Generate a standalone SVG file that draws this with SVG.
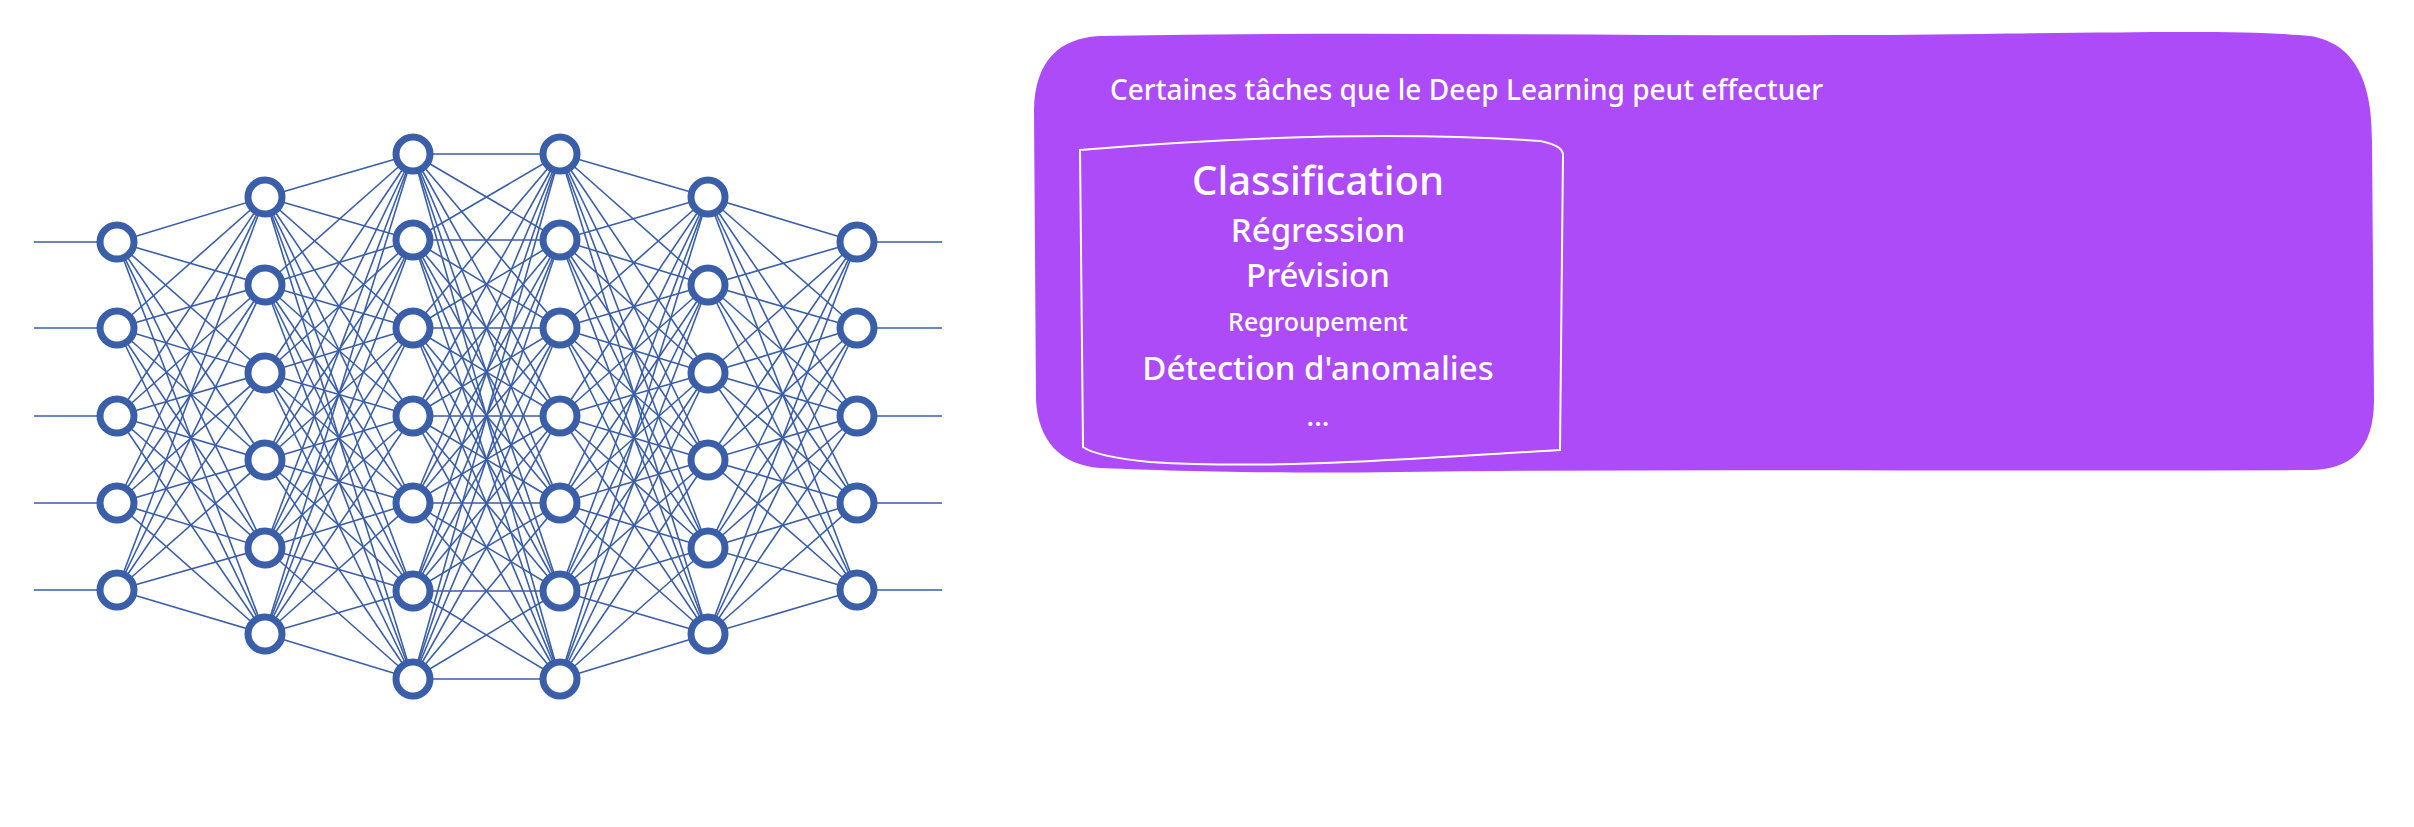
<svg xmlns="http://www.w3.org/2000/svg" width="2414" height="827" viewBox="0 0 2414 827">
<style>
.n{fill:#fff;stroke:#3a5ea8;stroke-width:7}
.c line{stroke:#3a5ea8;stroke-width:1.6}
.t{fill:#fff;font-family:"Noto Sans",sans-serif;text-anchor:middle;font-weight:500}
</style>
<rect width="2414" height="827" fill="#fff"/>
<g class="c" id="connectors">
<line x1="34" y1="242" x2="117" y2="242"/><line x1="34" y1="328" x2="117" y2="328"/><line x1="34" y1="416" x2="117" y2="416"/><line x1="34" y1="503" x2="117" y2="503"/><line x1="34" y1="590" x2="117" y2="590"/>
<line x1="857" y1="242" x2="942" y2="242"/><line x1="857" y1="328" x2="942" y2="328"/><line x1="857" y1="416" x2="942" y2="416"/><line x1="857" y1="503" x2="942" y2="503"/><line x1="857" y1="590" x2="942" y2="590"/>
<line x1="117" y1="242" x2="265" y2="197"/><line x1="117" y1="242" x2="265" y2="285"/><line x1="117" y1="242" x2="265" y2="373"/><line x1="117" y1="242" x2="265" y2="460"/><line x1="117" y1="242" x2="265" y2="548"/><line x1="117" y1="242" x2="265" y2="634"/>
<line x1="117" y1="328" x2="265" y2="197"/><line x1="117" y1="328" x2="265" y2="285"/><line x1="117" y1="328" x2="265" y2="373"/><line x1="117" y1="328" x2="265" y2="460"/><line x1="117" y1="328" x2="265" y2="548"/><line x1="117" y1="328" x2="265" y2="634"/>
<line x1="117" y1="416" x2="265" y2="197"/><line x1="117" y1="416" x2="265" y2="285"/><line x1="117" y1="416" x2="265" y2="373"/><line x1="117" y1="416" x2="265" y2="460"/><line x1="117" y1="416" x2="265" y2="548"/><line x1="117" y1="416" x2="265" y2="634"/>
<line x1="117" y1="503" x2="265" y2="197"/><line x1="117" y1="503" x2="265" y2="285"/><line x1="117" y1="503" x2="265" y2="373"/><line x1="117" y1="503" x2="265" y2="460"/><line x1="117" y1="503" x2="265" y2="548"/><line x1="117" y1="503" x2="265" y2="634"/>
<line x1="117" y1="590" x2="265" y2="197"/><line x1="117" y1="590" x2="265" y2="285"/><line x1="117" y1="590" x2="265" y2="373"/><line x1="117" y1="590" x2="265" y2="460"/><line x1="117" y1="590" x2="265" y2="548"/><line x1="117" y1="590" x2="265" y2="634"/>
<line x1="857" y1="242" x2="708" y2="197"/><line x1="857" y1="242" x2="708" y2="285"/><line x1="857" y1="242" x2="708" y2="373"/><line x1="857" y1="242" x2="708" y2="460"/><line x1="857" y1="242" x2="708" y2="548"/><line x1="857" y1="242" x2="708" y2="634"/>
<line x1="857" y1="328" x2="708" y2="197"/><line x1="857" y1="328" x2="708" y2="285"/><line x1="857" y1="328" x2="708" y2="373"/><line x1="857" y1="328" x2="708" y2="460"/><line x1="857" y1="328" x2="708" y2="548"/><line x1="857" y1="328" x2="708" y2="634"/>
<line x1="857" y1="416" x2="708" y2="197"/><line x1="857" y1="416" x2="708" y2="285"/><line x1="857" y1="416" x2="708" y2="373"/><line x1="857" y1="416" x2="708" y2="460"/><line x1="857" y1="416" x2="708" y2="548"/><line x1="857" y1="416" x2="708" y2="634"/>
<line x1="857" y1="503" x2="708" y2="197"/><line x1="857" y1="503" x2="708" y2="285"/><line x1="857" y1="503" x2="708" y2="373"/><line x1="857" y1="503" x2="708" y2="460"/><line x1="857" y1="503" x2="708" y2="548"/><line x1="857" y1="503" x2="708" y2="634"/>
<line x1="857" y1="590" x2="708" y2="197"/><line x1="857" y1="590" x2="708" y2="285"/><line x1="857" y1="590" x2="708" y2="373"/><line x1="857" y1="590" x2="708" y2="460"/><line x1="857" y1="590" x2="708" y2="548"/><line x1="857" y1="590" x2="708" y2="634"/>
<line x1="265" y1="197" x2="413" y2="154"/><line x1="265" y1="197" x2="413" y2="240"/><line x1="265" y1="197" x2="413" y2="328"/><line x1="265" y1="197" x2="413" y2="416"/><line x1="265" y1="197" x2="413" y2="503"/><line x1="265" y1="197" x2="413" y2="591"/><line x1="265" y1="197" x2="413" y2="679"/>
<line x1="265" y1="285" x2="413" y2="154"/><line x1="265" y1="285" x2="413" y2="240"/><line x1="265" y1="285" x2="413" y2="328"/><line x1="265" y1="285" x2="413" y2="416"/><line x1="265" y1="285" x2="413" y2="503"/><line x1="265" y1="285" x2="413" y2="591"/><line x1="265" y1="285" x2="413" y2="679"/>
<line x1="265" y1="373" x2="413" y2="154"/><line x1="265" y1="373" x2="413" y2="240"/><line x1="265" y1="373" x2="413" y2="328"/><line x1="265" y1="373" x2="413" y2="416"/><line x1="265" y1="373" x2="413" y2="503"/><line x1="265" y1="373" x2="413" y2="591"/><line x1="265" y1="373" x2="413" y2="679"/>
<line x1="265" y1="460" x2="413" y2="154"/><line x1="265" y1="460" x2="413" y2="240"/><line x1="265" y1="460" x2="413" y2="328"/><line x1="265" y1="460" x2="413" y2="416"/><line x1="265" y1="460" x2="413" y2="503"/><line x1="265" y1="460" x2="413" y2="591"/><line x1="265" y1="460" x2="413" y2="679"/>
<line x1="265" y1="548" x2="413" y2="154"/><line x1="265" y1="548" x2="413" y2="240"/><line x1="265" y1="548" x2="413" y2="328"/><line x1="265" y1="548" x2="413" y2="416"/><line x1="265" y1="548" x2="413" y2="503"/><line x1="265" y1="548" x2="413" y2="591"/><line x1="265" y1="548" x2="413" y2="679"/>
<line x1="265" y1="634" x2="413" y2="154"/><line x1="265" y1="634" x2="413" y2="240"/><line x1="265" y1="634" x2="413" y2="328"/><line x1="265" y1="634" x2="413" y2="416"/><line x1="265" y1="634" x2="413" y2="503"/><line x1="265" y1="634" x2="413" y2="591"/><line x1="265" y1="634" x2="413" y2="679"/>
<line x1="708" y1="197" x2="560" y2="154"/><line x1="708" y1="197" x2="560" y2="240"/><line x1="708" y1="197" x2="560" y2="328"/><line x1="708" y1="197" x2="560" y2="416"/><line x1="708" y1="197" x2="560" y2="503"/><line x1="708" y1="197" x2="560" y2="591"/><line x1="708" y1="197" x2="560" y2="679"/>
<line x1="708" y1="285" x2="560" y2="154"/><line x1="708" y1="285" x2="560" y2="240"/><line x1="708" y1="285" x2="560" y2="328"/><line x1="708" y1="285" x2="560" y2="416"/><line x1="708" y1="285" x2="560" y2="503"/><line x1="708" y1="285" x2="560" y2="591"/><line x1="708" y1="285" x2="560" y2="679"/>
<line x1="708" y1="373" x2="560" y2="154"/><line x1="708" y1="373" x2="560" y2="240"/><line x1="708" y1="373" x2="560" y2="328"/><line x1="708" y1="373" x2="560" y2="416"/><line x1="708" y1="373" x2="560" y2="503"/><line x1="708" y1="373" x2="560" y2="591"/><line x1="708" y1="373" x2="560" y2="679"/>
<line x1="708" y1="460" x2="560" y2="154"/><line x1="708" y1="460" x2="560" y2="240"/><line x1="708" y1="460" x2="560" y2="328"/><line x1="708" y1="460" x2="560" y2="416"/><line x1="708" y1="460" x2="560" y2="503"/><line x1="708" y1="460" x2="560" y2="591"/><line x1="708" y1="460" x2="560" y2="679"/>
<line x1="708" y1="548" x2="560" y2="154"/><line x1="708" y1="548" x2="560" y2="240"/><line x1="708" y1="548" x2="560" y2="328"/><line x1="708" y1="548" x2="560" y2="416"/><line x1="708" y1="548" x2="560" y2="503"/><line x1="708" y1="548" x2="560" y2="591"/><line x1="708" y1="548" x2="560" y2="679"/>
<line x1="708" y1="634" x2="560" y2="154"/><line x1="708" y1="634" x2="560" y2="240"/><line x1="708" y1="634" x2="560" y2="328"/><line x1="708" y1="634" x2="560" y2="416"/><line x1="708" y1="634" x2="560" y2="503"/><line x1="708" y1="634" x2="560" y2="591"/><line x1="708" y1="634" x2="560" y2="679"/>
<line x1="413" y1="154" x2="560" y2="154"/><line x1="413" y1="154" x2="560" y2="240"/><line x1="413" y1="154" x2="560" y2="328"/><line x1="413" y1="154" x2="560" y2="416"/><line x1="413" y1="154" x2="560" y2="503"/><line x1="413" y1="154" x2="560" y2="591"/><line x1="413" y1="154" x2="560" y2="679"/>
<line x1="413" y1="240" x2="560" y2="154"/><line x1="413" y1="240" x2="560" y2="240"/><line x1="413" y1="240" x2="560" y2="328"/><line x1="413" y1="240" x2="560" y2="416"/><line x1="413" y1="240" x2="560" y2="503"/><line x1="413" y1="240" x2="560" y2="591"/><line x1="413" y1="240" x2="560" y2="679"/>
<line x1="413" y1="328" x2="560" y2="154"/><line x1="413" y1="328" x2="560" y2="240"/><line x1="413" y1="328" x2="560" y2="328"/><line x1="413" y1="328" x2="560" y2="416"/><line x1="413" y1="328" x2="560" y2="503"/><line x1="413" y1="328" x2="560" y2="591"/><line x1="413" y1="328" x2="560" y2="679"/>
<line x1="413" y1="416" x2="560" y2="154"/><line x1="413" y1="416" x2="560" y2="240"/><line x1="413" y1="416" x2="560" y2="328"/><line x1="413" y1="416" x2="560" y2="416"/><line x1="413" y1="416" x2="560" y2="503"/><line x1="413" y1="416" x2="560" y2="591"/><line x1="413" y1="416" x2="560" y2="679"/>
<line x1="413" y1="503" x2="560" y2="154"/><line x1="413" y1="503" x2="560" y2="240"/><line x1="413" y1="503" x2="560" y2="328"/><line x1="413" y1="503" x2="560" y2="416"/><line x1="413" y1="503" x2="560" y2="503"/><line x1="413" y1="503" x2="560" y2="591"/><line x1="413" y1="503" x2="560" y2="679"/>
<line x1="413" y1="591" x2="560" y2="154"/><line x1="413" y1="591" x2="560" y2="240"/><line x1="413" y1="591" x2="560" y2="328"/><line x1="413" y1="591" x2="560" y2="416"/><line x1="413" y1="591" x2="560" y2="503"/><line x1="413" y1="591" x2="560" y2="591"/><line x1="413" y1="591" x2="560" y2="679"/>
<line x1="413" y1="679" x2="560" y2="154"/><line x1="413" y1="679" x2="560" y2="240"/><line x1="413" y1="679" x2="560" y2="328"/><line x1="413" y1="679" x2="560" y2="416"/><line x1="413" y1="679" x2="560" y2="503"/><line x1="413" y1="679" x2="560" y2="591"/><line x1="413" y1="679" x2="560" y2="679"/>
</g>
<g id="nodes">
<g id="l1"><circle class="n" cx="117" cy="242" r="17"/><circle class="n" cx="117" cy="328" r="17"/><circle class="n" cx="117" cy="416" r="17"/><circle class="n" cx="117" cy="503" r="17"/><circle class="n" cx="117" cy="590" r="17"/></g>
<g id="l2"><circle class="n" cx="265" cy="197" r="17"/><circle class="n" cx="265" cy="285" r="17"/><circle class="n" cx="265" cy="373" r="17"/><circle class="n" cx="265" cy="460" r="17"/><circle class="n" cx="265" cy="548" r="17"/><circle class="n" cx="265" cy="634" r="17"/></g>
<g id="l3"><circle class="n" cx="413" cy="154" r="17"/><circle class="n" cx="413" cy="240" r="17"/><circle class="n" cx="413" cy="328" r="17"/><circle class="n" cx="413" cy="416" r="17"/><circle class="n" cx="413" cy="503" r="17"/><circle class="n" cx="413" cy="591" r="17"/><circle class="n" cx="413" cy="679" r="17"/></g>
<g id="l4"><circle class="n" cx="560" cy="154" r="17"/><circle class="n" cx="560" cy="240" r="17"/><circle class="n" cx="560" cy="328" r="17"/><circle class="n" cx="560" cy="416" r="17"/><circle class="n" cx="560" cy="503" r="17"/><circle class="n" cx="560" cy="591" r="17"/><circle class="n" cx="560" cy="679" r="17"/></g>
<g id="l5"><circle class="n" cx="708" cy="197" r="17"/><circle class="n" cx="708" cy="285" r="17"/><circle class="n" cx="708" cy="373" r="17"/><circle class="n" cx="708" cy="460" r="17"/><circle class="n" cx="708" cy="548" r="17"/><circle class="n" cx="708" cy="634" r="17"/></g>
<g id="l6"><circle class="n" cx="857" cy="242" r="17"/><circle class="n" cx="857" cy="328" r="17"/><circle class="n" cx="857" cy="416" r="17"/><circle class="n" cx="857" cy="503" r="17"/><circle class="n" cx="857" cy="590" r="17"/></g>
</g>
<g id="tasks">
<path d="M1100,36 C1400,30 1700,38 1980,34 C2150,32 2250,30 2310,36 C2360,44 2372,90 2372,140 L2374,400 C2374,450 2350,470 2310,470 C2000,472 1700,468 1400,472 C1250,474 1150,470 1100,468 C1060,465 1038,440 1036,400 L1034,110 C1035,60 1060,38 1100,36 Z" fill="#ad4bf9"/>
<path d="M1080,150 C1200,140 1380,130 1540,141 C1556,144 1562,148 1563,154 L1560,450 C1420,458 1280,470 1150,462 C1110,458 1090,452 1083,447 Z" fill="none" stroke="#fff" stroke-width="2"/>
<text class="t" x="1110" y="100" font-size="28" style="text-anchor:start">Certaines tâches que le Deep Learning peut effectuer</text>
<text class="t" x="1318" y="195" font-size="40">Classification</text>
<text class="t" x="1318" y="242" font-size="33">Régression</text>
<text class="t" x="1318" y="287" font-size="33">Prévision</text>
<text class="t" x="1318" y="331" font-size="25">Regroupement</text>
<text class="t" x="1318" y="380" font-size="33">Détection d'anomalies</text>
<text class="t" x="1318" y="426" font-size="28">...</text>
</g>
</svg>
